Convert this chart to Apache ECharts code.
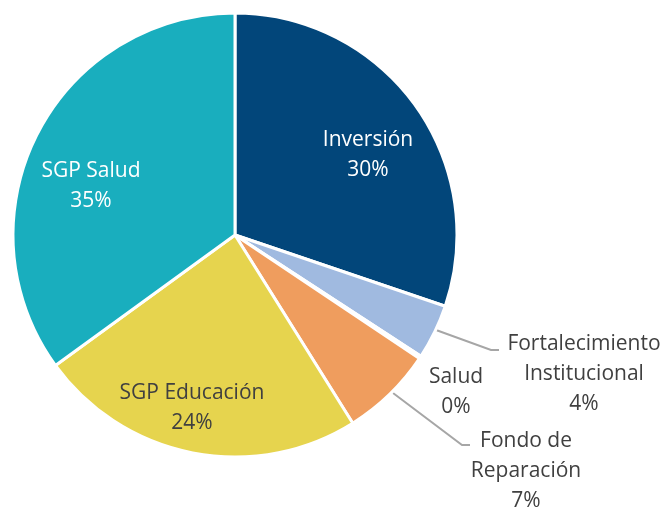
<!DOCTYPE html>
<html>
<head>
<meta charset="utf-8">
<script src="https://cdn.jsdelivr.net/npm/echarts@6/dist/echarts.min.js"></script>
<style>
  html, body { margin: 0; padding: 0; background: #fff; }
  #chart { width: 671px; height: 508px; }
</style>
</head>
<body>
<div id="chart"></div>
<script>
// slices, clockwise from 12 o'clock
const categories = ['Inversión', 'Fortalecimiento\nInstitucional', 'Salud', 'Fondo de\nReparación', 'SGP Educación', 'SGP Salud'];
const shares = [30.2, 4.0, 0.2, 6.7, 23.9, 35.0];
const colors = ['#02467A', '#A0BAE0', '#A5A5A5', '#EF9D5E', '#E6D44E', '#19AEBE'];
const labelColors = ['#ffffff', '#404040', '#404040', '#404040', '#404040', '#ffffff'];

const cx = 235, cy = 235, R = 222;

// where the labels sit (layout only)
const labelPos = {
  0: { x: 368, y: 155 },
  1: { x: 584, y: 374, line: [[436, 330], [491, 350], [499, 350]] },
  2: { x: 456, y: 392 },
  3: { x: 526, y: 471, line: [[393, 393], [462, 445], [470, 445]] },
  4: { x: 192, y: 408 },
  5: { x: 91, y: 186 }
};

const chart = echarts.init(document.getElementById('chart'));

const data = categories.map(function (name, i) {
  return {
    name: name,
    value: shares[i],
    itemStyle: { color: colors[i] },
    label: {
      position: (i === 1 || i === 2 || i === 3) ? 'outside' : 'inside',
      color: labelColors[i]
    },
    labelLine: { show: i === 1 || i === 3 }
  };
});

chart.setOption({
  animation: false,
  series: [{
    type: 'pie',
    center: [cx, cy],
    radius: [0, R],
    startAngle: 90,
    clockwise: true,
    avoidLabelOverlap: false,
    percentPrecision: 0,
    itemStyle: { borderColor: '#ffffff', borderWidth: 3 },
    label: {
      formatter: '{b}\n{d}%',
      fontFamily: 'Open Sans',
      fontSize: 21,
      lineHeight: 30,
      align: 'center'
    },
    labelLine: {
      lineStyle: { color: '#A6A6A6', width: 2 }
    },
    labelLayout: function (params) {
      const p = labelPos[params.dataIndex];
      const out = { x: p.x, y: p.y, align: 'center', verticalAlign: 'middle' };
      if (p.line) out.labelLinePoints = p.line;
      return out;
    },
    data: data
  }]
});
</script>
</body>
</html>
